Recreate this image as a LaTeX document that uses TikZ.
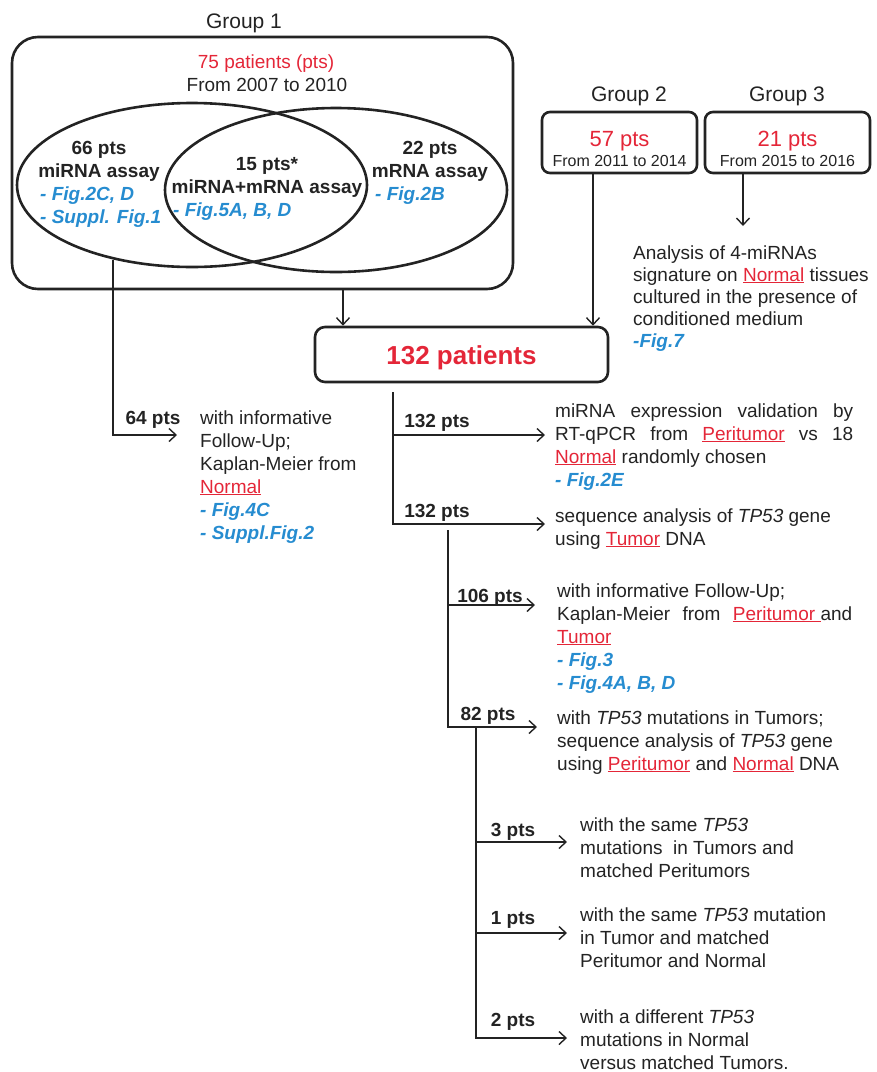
\documentclass[tikz,border=0pt]{standalone}
\usepackage{fontspec}
\setmainfont{Liberation Sans}
\usetikzlibrary{shapes.geometric, arrows.meta, positioning}

\definecolor{ptred}{RGB}{228,38,56}
\definecolor{figblue}{RGB}{38,140,208}
\definecolor{ink}{RGB}{35,35,35}
\newcommand{\redul}[1]{\textcolor{ptred}{\underline{#1}}}
\newcommand{\figtxt}[1]{\textcolor{figblue}{\bfseries\itshape #1}}
\newcommand{\gene}{\textit{TP53}}

\tikzset{
  body/.style={font=\fontsize{19}{23}\selectfont, text=ink, align=left, anchor=base west, inner sep=0pt},
  ptslbl/.style={font=\fontsize{19}{23}\selectfont\bfseries, text=ink, anchor=base, inner sep=0pt},
  grptitle/.style={font=\fontsize{21}{25}\selectfont, text=ink, anchor=base, inner sep=0pt},
  cohort/.style={draw=ink, line width=2.6pt, rounded corners=8pt, inner sep=0pt},
  venn/.style={ellipse, draw=ink, line width=2.6pt, inner sep=0pt},
  conn/.style={draw=ink, line width=1.4pt, -{Straight Barb[length=7pt,width=13pt]}}
}

\begin{document}
\begin{tikzpicture}[x=1pt, y=-1pt]
\useasboundingbox (0,0) rectangle (877,1072);

% Group 1 with the two assays (base = last line)
\node[grptitle] (g1title) at (244,28) {Group 1};
\node[cohort, rounded corners=26pt, minimum width=501pt, minimum height=252pt] (g1box) at (262.5,163) {};
\node[body, anchor=base, text=ptred] (t75) at (266,68) {75 patients (pts)};
\node[body, anchor=base] (t0710) at (267,91) {From 2007 to 2010};
\node[venn, minimum width=350pt, minimum height=164pt] (ellL) at (192,185) {};
\node[venn, minimum width=342pt, minimum height=164pt] (ellR) at (336,190) {};
\node[ptslbl, align=center] (t66) at (99,177) {66 pts\\miRNA assay};
\node[body] (f66) at (40,223) {\figtxt{- Fig.2C, D}\\\figtxt{- Suppl. Fig.1}};
\node[ptslbl, align=center] (t15) at (267,193) {15 pts*\\miRNA+mRNA assay};
\node[body] (f15) at (173,216) {\figtxt{- Fig.5A, B, D}};
\node[ptslbl, align=center] (t22) at (430,177) {22 pts\\mRNA assay};
\node[body] (f22) at (375,200) {\figtxt{- Fig.2B}};

% Group 2 and Group 3
\node[grptitle] (g2title) at (629,101) {Group 2};
\node[grptitle] (g3title) at (787,101) {Group 3};
\node[cohort, minimum width=155pt, minimum height=61pt] (g2box) at (619.5,142.5) {};
\node[cohort, minimum width=165pt, minimum height=61pt] (g3box) at (787.5,142.5) {};
\node[body, anchor=base, font=\fontsize{22}{26}\selectfont, text=ptred] (t57) at (619.5,146) {57 pts};
\node[body, anchor=base, font=\fontsize{16}{19}\selectfont] (t1114) at (619.5,166) {From 2011 to 2014};
\node[body, anchor=base, font=\fontsize{22}{26}\selectfont, text=ptred] (t21) at (787.5,146) {21 pts};
\node[body, anchor=base, font=\fontsize{16}{19}\selectfont] (t1516) at (787.5,166) {From 2015 to 2016};
\node[body, font=\fontsize{19}{22}\selectfont] (tsig) at (633,347) {Analysis of 4-miRNAs\\signature on \redul{Normal} tissues\\cultured in the presence of\\conditioned medium\\\figtxt{-Fig.7}};
\coordinate (a7) at (743,226);

% all patients
\node[cohort, rounded corners=10pt, minimum width=293pt, minimum height=55pt] (pbox) at (461.5,354.5) {};
\node[body, anchor=base, font=\fontsize{26}{30}\selectfont\bfseries, text=ptred] (t132) at (461.5,364) {132 patients};

\coordinate (j1) at (343,0);
\coordinate (j2) at (593,0);
\draw[conn] (g1box.south -| j1) -- (pbox.north -| j1);
\draw[conn] (g2box.south -| j2) -- (pbox.north -| j2);
\draw[conn] (g3box.south -| a7) -- (a7);

% follow-up of group 1
\coordinate (lfoot) at (113,260);
\coordinate (a64) at (177,435);
\draw[conn] (lfoot) |- (a64);
\node[ptslbl] (l64) at (153,424) {64 pts};
\node[body] (t64) at (200,539) {with informative\\Follow-Up;\\Kaplan-Meier from\\\redul{Normal}\\\figtxt{- Fig.4C}\\\figtxt{- Suppl.Fig.2}};

% first split
\coordinate (tr0) at (393,392);
\coordinate (a1) at (545,435);
\coordinate (a2) at (545,524);
\draw[conn] (tr0) |- (a2);
\draw[conn] (tr0 |- a1) -- (a1);
\node[ptslbl] (l1) at (437,427) {132 pts};
\node[ptslbl] (l2) at (437,517) {132 pts};
\node[body] (tval) at (555,486) {\makebox[298pt][s]{miRNA expression validation by}\\\makebox[298pt][s]{RT-qPCR from \redul{Peritumor} vs 18}\\\redul{Normal} randomly chosen\\\figtxt{- Fig.2E}};
\node[body] (tseq) at (555,545) {sequence analysis of \gene{} gene\\using \redul{Tumor} DNA};

% second split
\coordinate (tr1) at (448,530);
\coordinate (a106) at (535,605);
\coordinate (a82) at (537,727);
\draw[conn] (tr1) |- (a82);
\draw[conn] (tr1 |- a106) -- (a106);
\node[ptslbl] (l106) at (490,602) {106 pts};
\node[ptslbl] (l82) at (488,720) {82 pts};
\node[body] (tkm) at (557,689) {with informative Follow-Up;\\\makebox[295pt][s]{Kaplan-Meier from \redul{Peritumor\ }and}\\\redul{Tumor}\\\figtxt{- Fig.3}\\\figtxt{- Fig.4A, B, D}};
\node[body] (tmut) at (557,770) {with \gene{} mutations in Tumors;\\sequence analysis of \gene{} gene\\using \redul{Peritumor} and \redul{Normal} DNA};

% third split
\coordinate (tr2) at (476,728);
\coordinate (a3) at (567,842);
\coordinate (a1p) at (567,933);
\coordinate (a2p) at (567,1038);
\draw[conn] (tr2) |- (a2p);
\draw[conn] (tr2 |- a3) -- (a3);
\draw[conn] (tr2 |- a1p) -- (a1p);
\node[ptslbl] (l3) at (513,836) {3 pts};
\node[ptslbl] (l1p) at (513,924) {1 pts};
\node[ptslbl] (l2p) at (513,1026) {2 pts};
\node[body] (tsame) at (580,877) {with the same \gene\\mutations\ \ in Tumors and\\matched Peritumors};
\node[body] (tone) at (580,967) {with the same \gene{} mutation\\in Tumor and matched\\Peritumor and Normal};
\node[body] (tdiff) at (580,1069) {with a different \gene\\mutations in Normal\\versus matched Tumors.};
\end{tikzpicture}
\end{document}
